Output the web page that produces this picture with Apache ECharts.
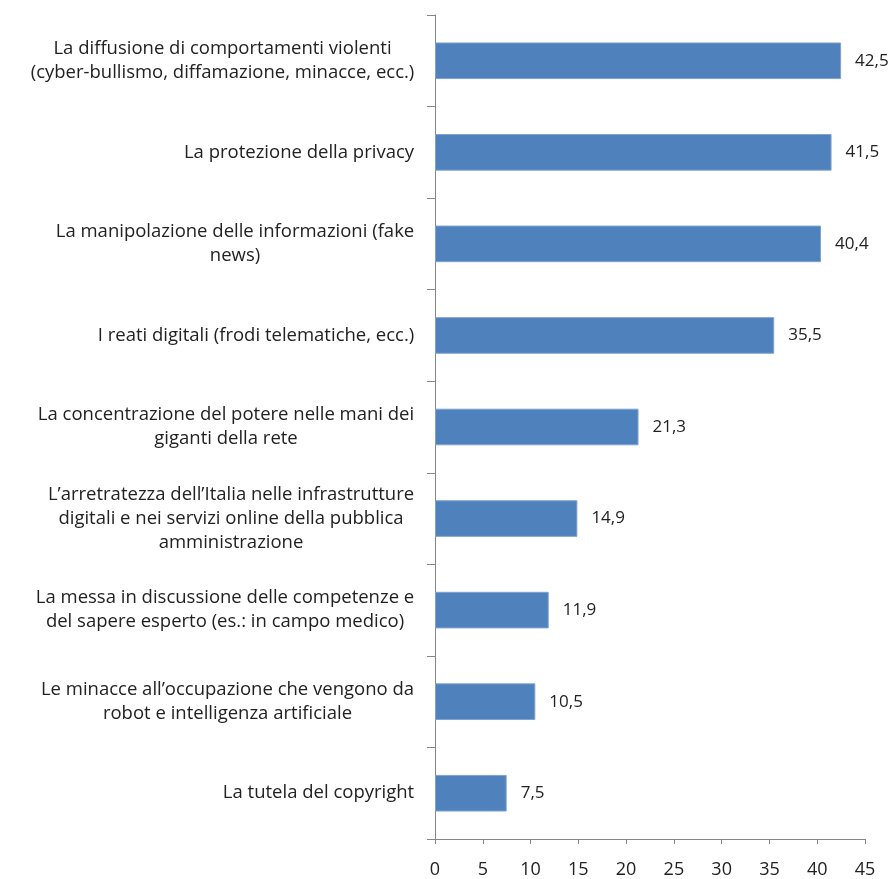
<!DOCTYPE html>
<html>
<head>
<meta charset="utf-8">
<script src="https://cdn.jsdelivr.net/npm/echarts@6/dist/echarts.min.js"></script>
<style>
  html, body { margin: 0; padding: 0; background: #fff; }
  #chart { width: 894px; height: 879px; }
</style>
</head>
<body>
<div id="chart"></div>
<script>
// categorie (dal basso verso l'alto come nell'asse)
var categories = [
  "La tutela del copyright",
  "Le minacce all\u2019occupazione che vengono da\nrobot e intelligenza artificiale",
  "La messa in discussione delle competenze e\ndel sapere esperto (es.: in campo medico)",
  "L\u2019arretratezza dell\u2019Italia nelle infrastrutture\ndigitali e nei servizi online della pubblica\namministrazione",
  "La concentrazione del potere nelle mani dei\ngiganti della rete",
  "I reati digitali (frodi telematiche, ecc.)",
  "La manipolazione delle informazioni (fake\nnews)",
  "La protezione della privacy",
  "La diffusione di comportamenti violenti\n(cyber-bullismo, diffamazione, minacce, ecc.)"
];
var values = [7.5, 10.5, 11.9, 14.9, 21.3, 35.5, 40.4, 41.5, 42.5];
var xTicks = [0, 5, 10, 15, 20, 25, 30, 35, 40, 45];

var FONT = "Open Sans";
var FSIZE = 18.5;

// larghezza di ogni blocco, per centrare le righe
var cv = document.createElement("canvas").getContext("2d");
cv.font = FSIZE + "px '" + FONT + "'";
var rich = {};
categories.forEach(function (c, i) {
  var w = 0;
  c.split("\n").forEach(function (l) {
    w = Math.max(w, cv.measureText(l).width);
  });
  rich["c" + i] = {
    width: Math.ceil(w) + 1,
    align: "center",
    fontFamily: FONT,
    fontSize: FSIZE,
    color: "#222",
    lineHeight: 24
  };
});

var chart = echarts.init(document.getElementById("chart"));
chart.setOption({
  animation: false,
  grid: { left: 435, right: 29, top: 15, bottom: 38 },
  xAxis: {
    type: "value",
    min: 0,
    max: 45,
    interval: 5,
    axisLine: { show: true, lineStyle: { color: "#868686" } },
    axisTick: { show: true, length: 5, lineStyle: { color: "#868686" } },
    splitLine: { show: false },
    axisLabel: {
      fontFamily: FONT,
      fontSize: 18,
      color: "#222",
      margin: 22,
      formatter: function (v) { return xTicks.indexOf(v) >= 0 ? String(v) : ""; }
    }
  },
  yAxis: {
    type: "category",
    data: categories,
    axisLine: { show: true, lineStyle: { color: "#868686" } },
    axisTick: { show: true, length: 8, lineStyle: { color: "#868686" } },
    axisLabel: {
      margin: 20,
      interval: 0,
      formatter: function (v) {
        var i = categories.indexOf(v);
        return v.split("\n").map(function (l) { return "{c" + i + "|" + l + "}"; }).join("\n");
      },
      rich: rich
    }
  },
  series: [{
    type: "bar",
    data: values,
    barCategoryGap: "60%",
    itemStyle: { color: "#4F81BD", borderColor: "#7FA3D0", borderWidth: 1 },
    label: {
      show: true,
      position: "right",
      distance: 14,
      fontFamily: FONT,
      fontSize: 17,
      color: "#222",
      formatter: function (p) { return p.value.toFixed(1).replace(".", ","); }
    }
  }]
});
</script>
</body>
</html>
